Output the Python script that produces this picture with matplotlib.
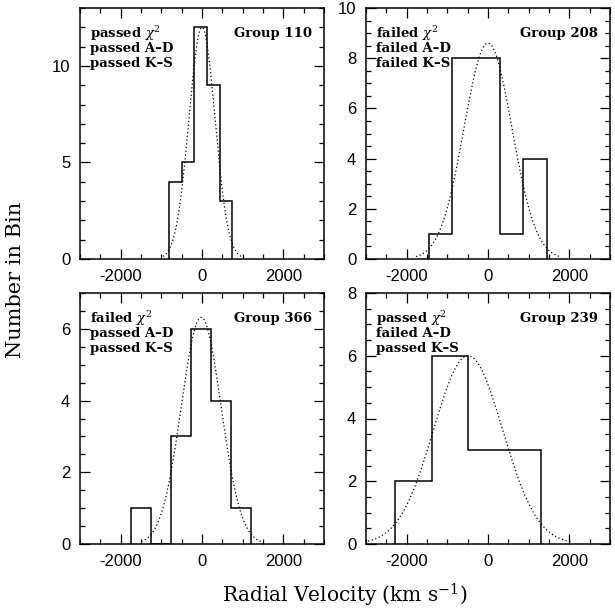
import numpy as np
import matplotlib
matplotlib.use("Agg")
import matplotlib.pyplot as plt

plt.rcParams['mathtext.fontset'] = 'dejavuserif'
plt.rcParams['axes.unicode_minus'] = False

# histogram bins (edges) and counts for each group
groups = ["Group 110", "Group 208", "Group 366", "Group 239"]
edges = [
    [-806, -498, -188, 122, 432, 742],
    [-1452, -876, -294, 290, 870, 1460],
    [-1758, -1262, -766, -272, 222, 718, 1212],
    [-2290, -1387, -484, 415, 1315],
]
counts = [
    [4, 5, 12, 9, 3],
    [1, 8, 8, 1, 4],
    [1, 0, 3, 6, 4, 1],
    [2, 6, 3, 3],
]
# fitted gaussians: mean, sigma, peak
gauss_mu = [0, 0, -20, -490]
gauss_sig = [320, 590, 490, 850]
gauss_amp = [12.0, 8.6, 6.32, 6.0]
# test results
tests = [
    ["passed", "passed", "passed"],
    ["failed", "failed", "failed"],
    ["failed", "passed", "passed"],
    ["passed", "failed", "passed"],
]
ylims = [13, 10, 7, 8]
ymajor = [5, 2, 2, 2]
yminor = [1, 0.5, 0.5, 0.5]

fig = plt.figure(figsize=(6.15, 6.08), dpi=100)
W, H = 615., 608.
boxes = [(80, 8), (366, 8), (80, 293), (366, 293)]
aw, ah = 244, 251

for i in range(4):
    x0, y0 = boxes[i]
    ax = fig.add_axes([x0 / W, 1 - (y0 + ah) / H, aw / W, ah / H])

    # step outline of the histogram
    ax.stairs(counts[i], edges[i], color='black', lw=1.1, baseline=0)

    mu, s, a = gauss_mu[i], gauss_sig[i], gauss_amp[i]
    xg = np.linspace(mu - 3 * s, mu + 3 * s, 300)
    ax.plot(xg, a * np.exp(-0.5 * ((xg - mu) / s) ** 2), color='black',
            lw=0.9, linestyle=(0, (1, 2)))

    ax.set_xlim(-3000, 3000)
    ax.set_ylim(0, ylims[i])
    ax.set_xticks([-2000, 0, 2000])
    ax.set_xticks(np.arange(-3000, 3001, 500), minor=True)
    ax.set_yticks(np.arange(0, ylims[i] + 0.01, ymajor[i]))
    ax.set_yticks(np.arange(0, ylims[i] + 0.01, yminor[i]), minor=True)
    ax.tick_params(which='both', direction='in', top=True, right=True,
                   labelsize=12, width=0.9)
    ax.tick_params(which='major', length=7, pad=7)
    ax.tick_params(which='minor', length=3.5)
    for lab in ax.get_xticklabels() + ax.get_yticklabels():
        lab.set_family('Liberation Sans')
    for sp in ax.spines.values():
        sp.set_linewidth(1.1)

    names = [r'$\chi^2$', 'A\u2013D', 'K\u2013S']
    for j in range(3):
        ax.text(0.04, 0.90 - j * 0.06, tests[i][j] + ' ' + names[j],
                transform=ax.transAxes, family='DejaVu Serif', fontsize=9.5,
                weight='bold', va='center', ha='left')
    ax.text(0.95, 0.90, groups[i], transform=ax.transAxes,
            family='DejaVu Serif', fontsize=9.5, weight='bold',
            va='center', ha='right')

fig.text(345 / W, 1 - 595 / H, r'Radial Velocity (km s$^{-1}$)',
         family='DejaVu Serif', fontsize=14.5, ha='center', va='center')
fig.text(16 / W, 1 - 280 / H, 'Number in Bin', family='DejaVu Serif',
         fontsize=15, rotation=90, ha='center', va='center')

fig.savefig('out.png', dpi=100)
